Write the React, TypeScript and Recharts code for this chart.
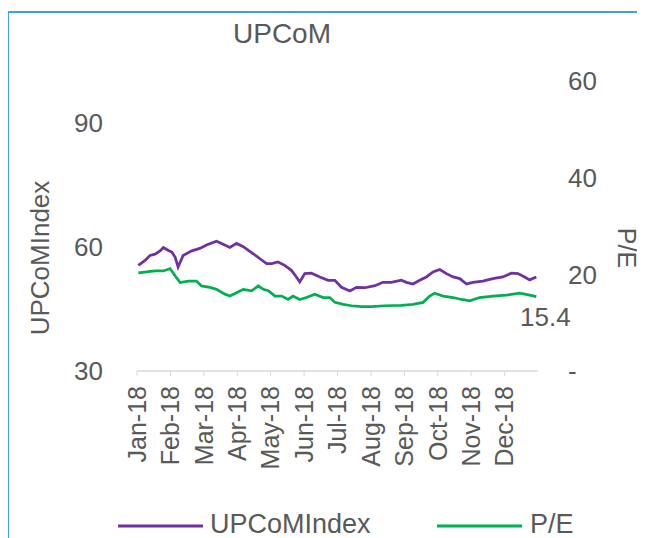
import React from "react";
import { LineChart, Line, XAxis, YAxis, Label } from "recharts";

const MONTHS = ["Jan-18", "Feb-18", "Mar-18", "Apr-18", "May-18", "Jun-18", "Jul-18", "Aug-18", "Sep-18", "Oct-18", "Nov-18", "Dec-18"];
const MONTH_TICKS = [0, 1, 2, 3, 4, 5, 6, 7, 8, 9, 10, 11];

// UPCoM Index (left axis), position in months from Jan-18
const INDEX_POS = [0.04, 0.24, 0.39, 0.54, 0.69, 0.79, 0.94, 1.04, 1.14, 1.23, 1.38, 1.64, 1.88, 2.08, 2.38, 2.53, 2.78, 2.98, 3.18, 3.48, 3.68, 3.88, 4.03, 4.22, 4.42, 4.62, 4.77, 4.87, 5.02, 5.22, 5.47, 5.72, 5.92, 6.12, 6.37, 6.57, 6.82, 7.12, 7.36, 7.61, 7.91, 8.06, 8.26, 8.46, 8.66, 8.86, 9.06, 9.26, 9.46, 9.66, 9.86, 10.05, 10.35, 10.65, 10.95, 11.2, 11.4, 11.6, 11.75, 11.95];
const INDEX_VAL = [55.5, 56.7, 57.9, 58.2, 59.0, 59.8, 59.1, 58.7, 57.5, 55.1, 57.9, 59.0, 59.6, 60.4, 61.3, 60.8, 59.8, 60.8, 60.0, 58.3, 57.1, 55.9, 55.9, 56.3, 55.5, 54.3, 52.7, 51.5, 53.5, 53.6, 52.7, 51.9, 51.9, 50.2, 49.3, 50.2, 50.1, 50.6, 51.4, 51.4, 51.9, 51.4, 51.0, 51.9, 52.7, 53.9, 54.5, 53.5, 52.7, 52.3, 51.0, 51.4, 51.7, 52.3, 52.7, 53.6, 53.5, 52.7, 52.0, 52.7];

// P/E (right axis)
const PE_POS = [0.04, 0.29, 0.54, 0.79, 0.99, 1.14, 1.29, 1.53, 1.78, 1.93, 2.18, 2.38, 2.63, 2.78, 2.98, 3.18, 3.43, 3.63, 3.78, 3.93, 4.13, 4.33, 4.52, 4.67, 4.87, 5.07, 5.32, 5.57, 5.77, 5.92, 6.17, 6.42, 6.72, 7.02, 7.41, 7.91, 8.26, 8.56, 8.76, 8.91, 9.16, 9.46, 9.71, 9.96, 10.25, 10.65, 11.05, 11.45, 11.75, 11.95];
const PE_VAL = [20.3, 20.5, 20.7, 20.7, 21.2, 19.7, 18.3, 18.6, 18.6, 17.6, 17.3, 16.9, 15.9, 15.5, 16.2, 16.9, 16.6, 17.6, 16.9, 16.6, 15.5, 15.5, 14.8, 15.5, 14.8, 15.2, 15.9, 15.2, 15.2, 14.2, 13.8, 13.5, 13.3, 13.3, 13.5, 13.6, 13.8, 14.2, 15.5, 16.1, 15.5, 15.2, 14.8, 14.5, 15.2, 15.5, 15.7, 16.1, 15.7, 15.4];

const LEFT_TICKS = [30, 60, 90];
const RIGHT_TICKS = [0, 20, 40, 60];

const TITLE = "UPCoM";
const INDEX_NAME = "UPCoMIndex";
const PE_NAME = "P/E";

const indexData = INDEX_POS.map((m, i) => ({ m, v: INDEX_VAL[i] }));
const peData = PE_POS.map((m, i) => ({ m, v: PE_VAL[i] }));

const PURPLE = "#7030A0";
const GREEN = "#00B050";
const TEXT = "#595959";
const FONT = "'Liberation Sans', Arial, sans-serif";

const MonthTick = (props: any) => {
  const { x, y, payload } = props;
  return (
    <g transform={`translate(${x},${y})`}>
      <text transform="rotate(-90)" textAnchor="end" dy="0.35em" fill={TEXT} fontSize={25} fontFamily={FONT}>
        {MONTHS[payload.value]}
      </text>
    </g>
  );
};

const LastLabel = (props: any) => {
  const { x, y, index, value } = props;
  if (index !== peData.length - 1) return null;
  return (
    <text x={x + 9} y={y + 29} textAnchor="middle" fill={TEXT} fontSize={26} fontFamily={FONT}>
      {value}
    </text>
  );
};

export default function App() {
  return (
    <div style={{ position: "relative", width: 637, height: 530, overflow: "hidden", background: "#fff", fontFamily: FONT }}>
      <div style={{ position: "absolute", left: -1, top: 3, width: 700, height: 600, border: "2px solid #3FA3E0", boxSizing: "border-box" }} />
      <div style={{ position: "absolute", left: 0, top: 0 }}>
        <LineChart width={637} height={530} margin={{ top: 73, right: 17, bottom: 67, left: 29 }}>
          <XAxis
            xAxisId="x"
            type="number"
            dataKey="m"
            domain={[0, 12]}
            ticks={MONTH_TICKS}
            interval={0}
            tick={<MonthTick />}
            tickSize={5}
            tickMargin={10}
            height={100}
            axisLine={{ stroke: "#d9d9d9", strokeWidth: 1.5 }}
            tickLine={{ stroke: "#d9d9d9" }}
          />
          <YAxis
            yAxisId="left"
            orientation="left"
            domain={[30, 100]}
            ticks={LEFT_TICKS}
            width={100}
            axisLine={false}
            tickLine={false}
            tickSize={0}
            tickMargin={34}
            tick={{ fill: TEXT, fontSize: 26, fontFamily: FONT }}
          >
            <Label
              content={() => (
                <text x={32} y={250} transform="rotate(-90 32 250)" textAnchor="middle" dominantBaseline="central" fill={TEXT} fontSize={26} fontFamily={FONT}>
                  {INDEX_NAME}
                </text>
              )}
            />
          </YAxis>
          <YAxis
            yAxisId="right"
            orientation="right"
            domain={[0, 60]}
            ticks={RIGHT_TICKS}
            width={90}
            axisLine={false}
            tickLine={false}
            tickSize={0}
            tickMargin={30}
            tickFormatter={(v: number) => (v === 0 ? "-" : String(v))}
            tick={{ fill: TEXT, fontSize: 26, fontFamily: FONT }}
          >
            <Label
              content={() => (
                <text x={619} y={240} transform="rotate(90 619 240)" textAnchor="middle" dominantBaseline="central" fill={TEXT} fontSize={25} fontFamily={FONT}>
                  {PE_NAME}
                </text>
              )}
            />
          </YAxis>
          <Line
            xAxisId="x"
            yAxisId="left"
            data={indexData}
            dataKey="v"
            stroke={PURPLE}
            strokeWidth={2.75}
            dot={false}
            isAnimationActive={false}
            name={INDEX_NAME}
          />
          <Line
            xAxisId="x"
            yAxisId="right"
            data={peData}
            dataKey="v"
            stroke={GREEN}
            strokeWidth={2.75}
            dot={false}
            isAnimationActive={false}
            name={PE_NAME}
            label={<LastLabel />}
          />
        </LineChart>
      </div>
      <svg width={637} height={530} style={{ position: "absolute", left: 0, top: 0, pointerEvents: "none" }}>
        <text x={274} y={35} textAnchor="middle" fill={TEXT} fontSize={28} fontFamily={FONT}>
          {TITLE}
        </text>
        <line x1={110} y1={518} x2={195} y2={518} stroke={PURPLE} strokeWidth={3} />
        <text x={202} y={525} fill={TEXT} fontSize={27} fontFamily={FONT}>
          {INDEX_NAME}
        </text>
        <line x1={429} y1={518} x2={514} y2={518} stroke={GREEN} strokeWidth={3} />
        <text x={522} y={525} fill={TEXT} fontSize={27} fontFamily={FONT}>
          {PE_NAME}
        </text>
      </svg>
    </div>
  );
}
